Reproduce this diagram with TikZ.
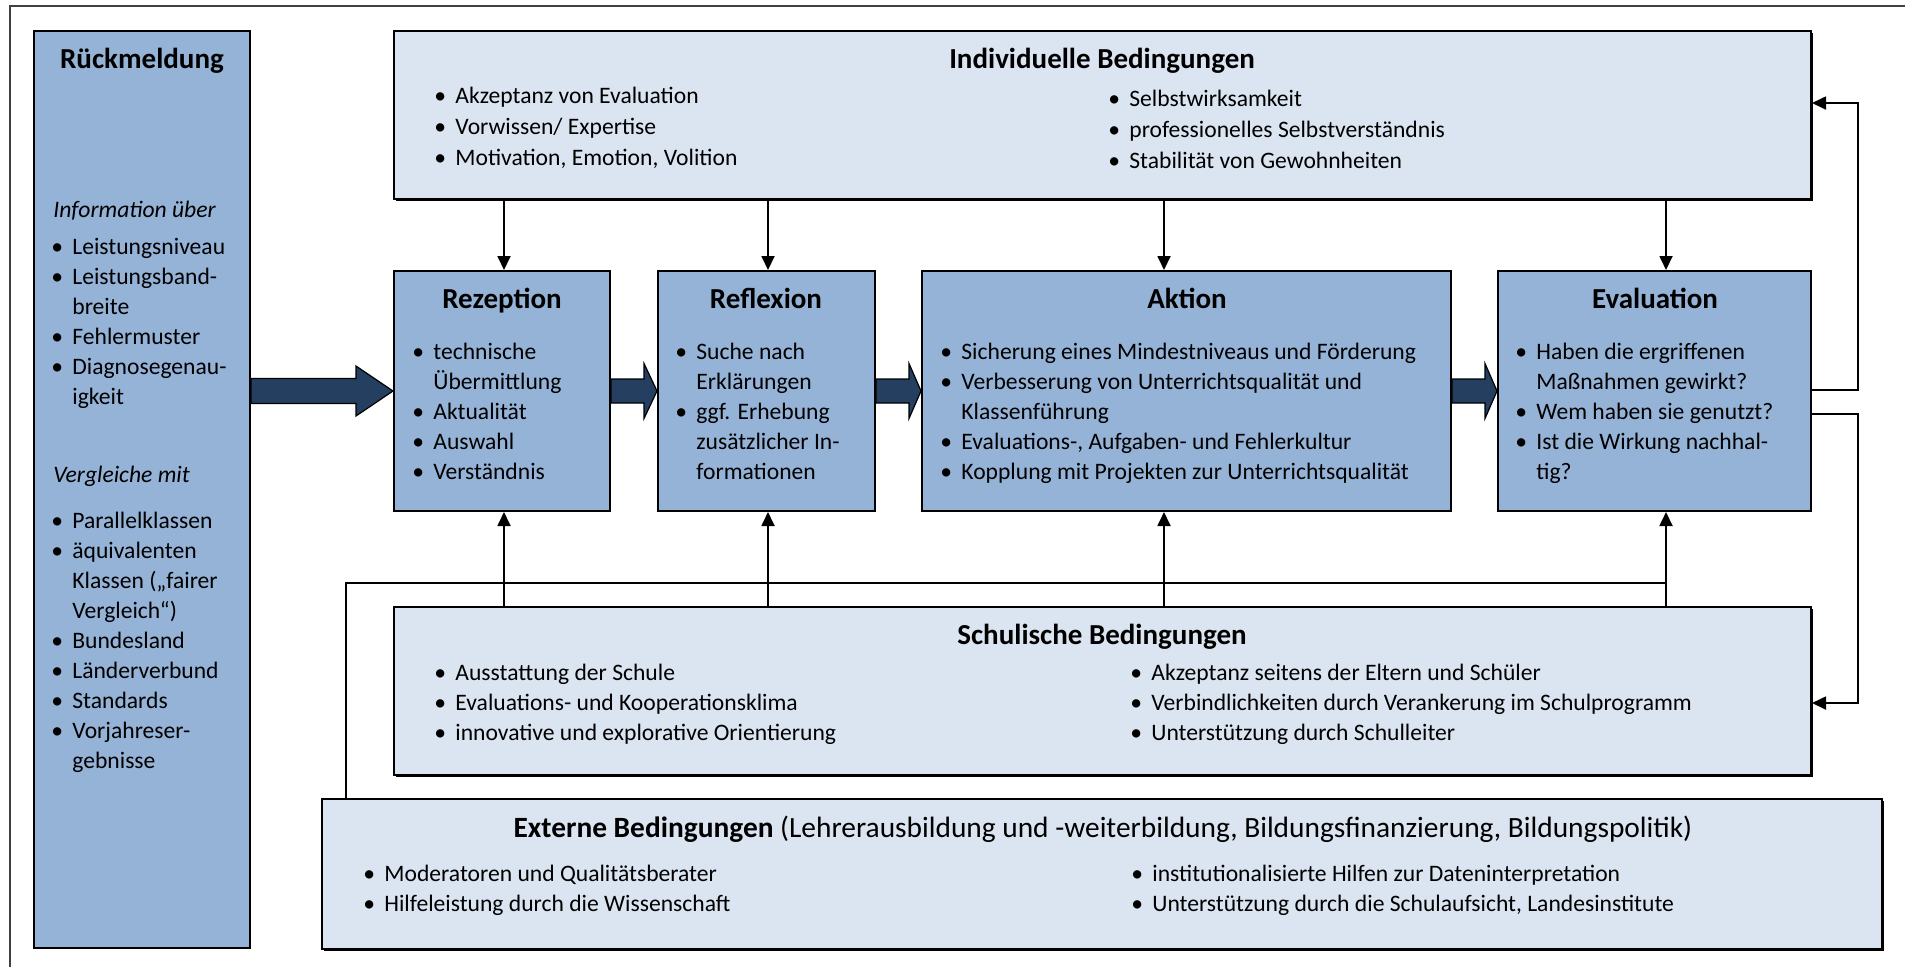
\documentclass[tikz,border=0pt]{standalone}
\usepackage{fontspec}
\setmainfont{Carlito}
\usetikzlibrary{arrows.meta,calc,fit,shadows}

\definecolor{procfill}{HTML}{95B3D7}
\definecolor{condfill}{HTML}{DBE5F1}
\definecolor{fatfill}{HTML}{243F60}
\definecolor{framecol}{HTML}{404040}

\newcommand\bodyfont{\fontsize{11.8}{15}\selectfont}
\newcommand\widefont{\fontsize{11.8}{15.5}\selectfont}
\newcommand\headfont{\fontsize{14.5}{17}\selectfont\bfseries}
\newcommand\bul{\makebox[10.5pt][l]{•}}
\newcommand\cont{\hspace*{10.5pt}}
\newcommand\fst{\rule{0pt}{10pt}}

% broad block arrow: start, tip, head length, half shaft, half head
\newcommand\fatarrow[5]{%
  \draw[fat] ($(#1)+(0,-#4)$) -- ($(#2)+(-#3,-#4)$) -- ($(#2)+(-#3,-#5)$)
    -- (#2) -- ($(#2)+(-#3,#5)$) -- ($(#2)+(-#3,#4)$) -- ($(#1)+(0,#4)$) -- cycle;}

\begin{document}
\begin{tikzpicture}[x=0.5pt,y=-0.5pt,
  procbox/.style={draw=black, line width=1pt, fill=procfill, inner sep=0pt},
  condbox/.style={draw=black, line width=1pt, fill=condfill, inner sep=0pt,
    drop shadow={shadow xshift=0.8pt, shadow yshift=-0.8pt, fill=black, opacity=1}},
  title/.style={anchor=base, inner sep=0pt, font=\headfont},
  label/.style={anchor=base west, inner sep=0pt, font=\bodyfont\itshape},
  list/.style={anchor=north west, inner sep=0pt, align=left, font=\bodyfont},
  widelist/.style={list, font=\widefont},
  conn/.style={line width=0.9pt, -{Triangle[length=7pt,width=6.5pt]}},
  link/.style={line width=0.9pt},
  fat/.style={draw=black, line width=0.6pt, fill=fatfill, line join=miter}]

\useasboundingbox (0,0) rectangle (1905,966);

% outer frame
\draw[framecol, line width=1pt] (10,990) -- (10,6) -- (1930,6);

% feedback column
\node[procbox, fit={(34,31) (250,948)}] (rueck) {};
\node[title] (ruecktitle) at (142,68) {Rückmeldung};
\node[label] (infolabel) at (53,217) {Information über};
\node[list] (infolist) at (51,234) {\fst\bul Leistungsniveau\\ \bul Leistungsband-\\ \cont breite\\ \bul Fehlermuster\\ \bul Diagnosegenau-\\ \cont igkeit};
\node[label] (vergllabel) at (53,482) {Vergleiche mit};
\node[list] (vergllist) at (51,508) {\fst\bul Parallelklassen\\ \bul äquivalenten\\ \cont Klassen („fairer\\ \cont Vergleich“)\\ \bul Bundesland\\ \bul Länderverbund\\ \bul Standards\\ \bul Vorjahreser-\\ \cont gebnisse};

% individual conditions
\node[condbox, fit={(394,31) (1811,199)}] (ind) {};
\node[title] (indtitle) at (1102,68) {Individuelle Bedingungen};
\node[widelist] (indleft) at (434,83) {\fst\bul Akzeptanz von Evaluation\\ \bul Vorwissen/ Expertise\\ \bul Motivation, Emotion, Volition};
\node[widelist] (indright) at (1108,86) {\fst\bul Selbstwirksamkeit\\ \bul professionelles Selbstverständnis\\ \bul Stabilität von Gewohnheiten};

% process steps
\node[procbox, fit={(394,271) (610,511)}] (rez) {};
\node[title] (reztitle) at (502,308) {Rezeption};
\node[list] (rezlist) at (412,339) {\fst\bul technische\\ \cont Übermittlung\\ \bul Aktualität\\ \bul Auswahl\\ \bul Verständnis};

\node[procbox, fit={(658,271) (875,511)}] (refl) {};
\node[title] (refltitle) at (766,308) {Reflexion};
\node[list] (refllist) at (675,339) {\fst\bul Suche nach\\ \cont Erklärungen\\ \bul ggf. Erhebung\\ \cont zusätzlicher In-\\ \cont formationen};

\node[procbox, fit={(922,271) (1451,511)}] (akt) {};
\node[title] (akttitle) at (1187,308) {Aktion};
\node[list] (aktlist) at (940,339) {\fst\bul Sicherung eines Mindestniveaus und Förderung\\ \bul Verbesserung von Unterrichtsqualität und\\ \cont Klassenführung\\ \bul Evaluations-, Aufgaben- und Fehlerkultur\\ \bul Kopplung mit Projekten zur Unterrichtsqualität};

\node[procbox, fit={(1498,271) (1811,511)}] (eva) {};
\node[title] (evatitle) at (1655,308) {Evaluation};
\node[list] (evalist) at (1515,339) {\fst\bul Haben die ergriffenen\\ \cont Maßnahmen gewirkt?\\ \bul Wem haben sie genutzt?\\ \bul Ist die Wirkung nachhal-\\ \cont tig?};

% school conditions
\node[condbox, fit={(394,607) (1811,775)}] (sch) {};
\node[title] (schtitle) at (1102,644) {Schulische Bedingungen};
\node[list] (schleft) at (434,660) {\fst\bul Ausstattung der Schule\\ \bul Evaluations- und Kooperationsklima\\ \bul innovative und explorative Orientierung};
\node[list] (schright) at (1130,660) {\fst\bul Akzeptanz seitens der Eltern und Schüler\\ \bul Verbindlichkeiten durch Verankerung im Schulprogramm\\ \bul Unterstützung durch Schulleiter};

% external conditions
\node[condbox, fit={(322,799) (1882,949)}] (ext) {};
\node[anchor=base, inner sep=0pt, font=\fontsize{14.7}{17}\selectfont] (exttitle) at (1103,837) {\textbf{Externe Bedingungen} (Lehrerausbildung und -weiterbildung, Bildungsfinanzierung, Bildungspolitik)};
\node[list] (extleft) at (363,861) {\fst\bul Moderatoren und Qualitätsberater\\ \bul Hilfeleistung durch die Wissenschaft};
\node[list] (extright) at (1131,861) {\fst\bul institutionalisierte Hilfen zur Dateninterpretation\\ \bul Unterstützung durch die Schulaufsicht, Landesinstitute};

% connector guide positions
\coordinate (rx) at (504,0);
\coordinate (fx) at (768,0);
\coordinate (ax) at (1164,0);
\coordinate (ex) at (1666,0);
\coordinate (kx) at (346,0);
\coordinate (ky) at (0,583);
\coordinate (fbx) at (1858,0);
\coordinate (upy) at (0,390);
\coordinate (dny) at (0,414);
\coordinate (iny) at (0,103);
\coordinate (sny) at (0,703);

\foreach \c/\b in {rx/rez, fx/refl, ax/akt, ex/eva}{
  \draw[conn] (ind.south -| \c) -- (\b.north -| \c);
  \draw[conn] (sch.north -| \c) -- (\b.south -| \c);
}
\draw[link] (ext.north -| kx) |- (ky -| ex);
\draw[conn] (upy -| eva.east) -| (fbx |- iny) -- (iny -| ind.east);
\draw[conn] (dny -| eva.east) -| (fbx |- sny) -- (sny -| sch.east);

% block arrows along the process
\coordinate (bigstart) at (rueck.east |- rez.west);
\fatarrow{bigstart}{rez.west}{37}{12.5}{25}
\fatarrow{rez.east}{refl.west}{13}{12}{27.5}
\fatarrow{refl.east}{akt.west}{12}{12}{27.5}
\fatarrow{akt.east}{eva.west}{12}{12}{27.5}

\end{tikzpicture}
\end{document}
